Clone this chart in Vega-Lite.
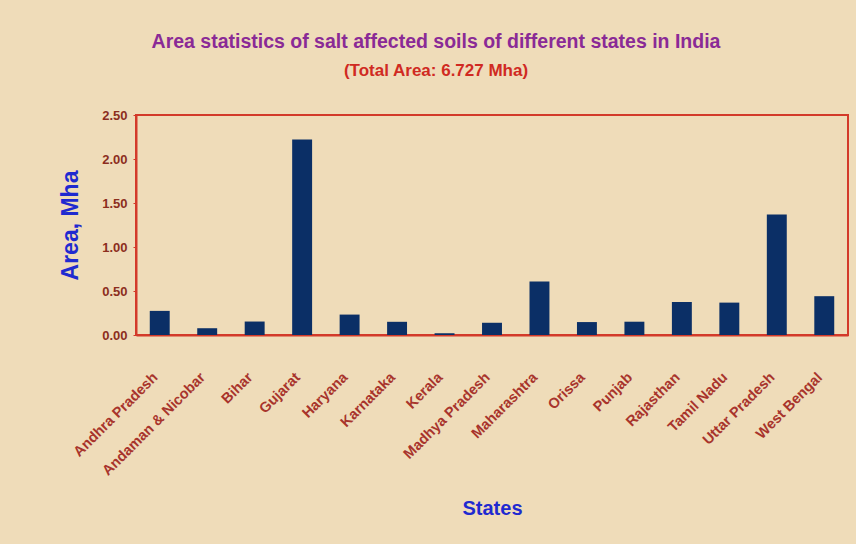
{
  "$schema": "https://vega.github.io/schema/vega-lite/v6.json",
  "autosize": {"type": "none"},
  "width": 712,
  "height": 220,
  "padding": {"left": 136, "top": 115, "right": 8, "bottom": 209},
  "background": "#efdcb9",
  "title": {
    "text": "Area statistics of salt affected soils of different states in India",
    "subtitle": "(Total Area: 6.727 Mha)",
    "anchor": "middle",
    "frame": "group",
    "dx": -56,
    "offset": 29,
    "font": "Liberation Sans",
    "fontSize": 19.5,
    "fontWeight": "bold",
    "color": "#8a2a96",
    "subtitleFont": "Liberation Sans",
    "subtitleFontSize": 17,
    "subtitleFontWeight": "bold",
    "subtitleColor": "#d02a22",
    "subtitlePadding": 11
  },
  "config": {
    "view": {"stroke": "#d33a2a", "strokeWidth": 2},
    "axis": {"grid": false}
  },
  "data": {
    "values": [
      {"state": "Andhra Pradesh", "area": 0.274},
      {"state": "Andaman & Nicobar", "area": 0.077},
      {"state": "Bihar", "area": 0.153},
      {"state": "Gujarat", "area": 2.222},
      {"state": "Haryana", "area": 0.232},
      {"state": "Karnataka", "area": 0.150},
      {"state": "Kerala", "area": 0.020},
      {"state": "Madhya Pradesh", "area": 0.139},
      {"state": "Maharashtra", "area": 0.607},
      {"state": "Orissa", "area": 0.147},
      {"state": "Punjab", "area": 0.151},
      {"state": "Rajasthan", "area": 0.375},
      {"state": "Tamil Nadu", "area": 0.368},
      {"state": "Uttar Pradesh", "area": 1.369},
      {"state": "West Bengal", "area": 0.441}
    ]
  },
  "mark": {"type": "bar", "color": "#0b2f66"},
  "encoding": {
    "x": {
      "field": "state",
      "type": "nominal",
      "sort": null,
      "scale": {"paddingInner": 0.58, "paddingOuter": 0.29},
      "axis": {
        "title": "States",
        "titleFont": "Liberation Sans",
        "titleFontSize": 20,
        "titleFontWeight": "bold",
        "titleColor": "#1f2ad0",
        "titleY": 163,
        "labelAngle": -45,
        "labelAlign": "right",
        "labelBaseline": "middle",
        "labelPadding": 40,
        "labelOffset": -4,
        "labelFont": "Liberation Sans",
        "labelFontSize": 14.5,
        "labelFontWeight": "bold",
        "labelColor": "#a8342c",
        "domainColor": "#d33a2a",
        "domainWidth": 2,
        "ticks": false
      }
    },
    "y": {
      "field": "area",
      "type": "quantitative",
      "scale": {"domain": [0, 2.5], "nice": false},
      "axis": {
        "title": "Area, Mha",
        "titleFont": "Liberation Sans",
        "titleFontSize": 23,
        "titleFontWeight": "bold",
        "titleColor": "#1f2ad0",
        "titleX": -66,
        "titleBaseline": "middle",
        "values": [0, 0.5, 1, 1.5, 2, 2.5],
        "format": ".2f",
        "labelFont": "Liberation Sans",
        "labelFontSize": 13,
        "labelFontWeight": "bold",
        "labelColor": "#8c2e1e",
        "labelPadding": 6,
        "domainColor": "#d33a2a",
        "domainWidth": 2,
        "tickColor": "#d33a2a",
        "tickSize": 3
      }
    }
  }
}
